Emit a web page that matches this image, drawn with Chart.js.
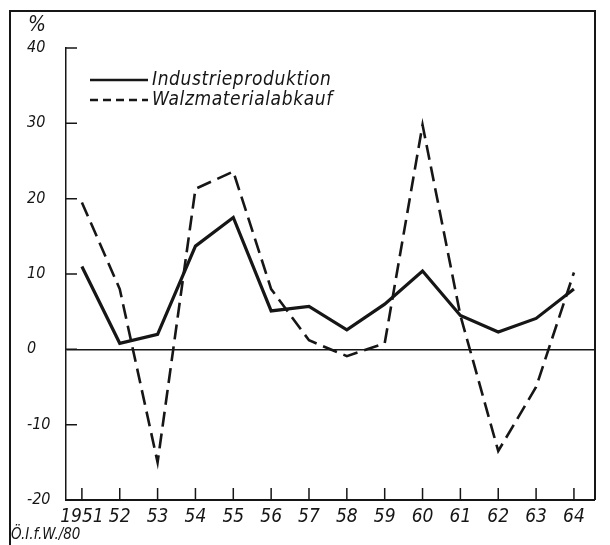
<!DOCTYPE html>
<html>
<head>
<meta charset="utf-8">
<script src="https://cdn.jsdelivr.net/npm/chart.js@4.4.1/dist/chart.umd.min.js"></script>
<style>
  html, body { margin: 0; background: #fff; }
  #wrap { width: 610px; height: 545px; }
</style>
</head>
<body>
<div id="wrap"><canvas id="chart"></canvas></div>
<script>
const years = [1951, 1952, 1953, 1954, 1955, 1956, 1957, 1958, 1959, 1960, 1961, 1962, 1963, 1964];
const yearLabels = ['1951', '52', '53', '54', '55', '56', '57', '58', '59', '60', '61', '62', '63', '64'];
const industrieproduktion = [11.0, 0.8, 2.0, 13.7, 17.5, 5.1, 5.7, 2.6, 6.0, 10.4, 4.5, 2.3, 4.1, 8.0];
const walzmaterialabkauf = [19.5, 8.0, -15.0, 21.3, 23.6, 8.0, 1.2, -0.9, 0.8, 29.8, 4.5, -13.5, -5.0, 10.2];
const yTicks = [-20, -10, 0, 10, 20, 30, 40];

const ink = '#161616';
const face = '"DejaVu Sans Condensed", "Liberation Sans Narrow", "DejaVu Sans", sans-serif';

// box, inner tick marks, legend and the small texts
const frame = {
  id: 'frame',
  afterDraw(chart) {
    const { ctx, chartArea: a, scales: { x, y } } = chart;
    ctx.save();
    ctx.strokeStyle = ink;
    ctx.fillStyle = ink;

    ctx.lineWidth = 2;
    ctx.beginPath();
    ctx.moveTo(10, 545);
    ctx.lineTo(10, 11);
    ctx.lineTo(a.right + 1, 11);
    ctx.lineTo(a.right + 1, a.bottom);
    ctx.stroke();

    ctx.lineWidth = 1.5;
    ctx.beginPath();
    yTicks.forEach(v => {
      const py = y.getPixelForValue(v);
      ctx.moveTo(a.left, py);
      ctx.lineTo(a.left + 11, py);
    });
    years.forEach(v => {
      const px = x.getPixelForValue(v);
      ctx.moveTo(px, a.bottom);
      ctx.lineTo(px, a.bottom - 12);
    });
    ctx.stroke();

    // legend
    ctx.textBaseline = 'middle';
    ctx.textAlign = 'left';
    ctx.font = 'italic 19px ' + face;
    ctx.letterSpacing = '0.6px';
    chart.data.datasets.forEach((ds, i) => {
      const ly = 80 + i * 20;
      ctx.lineWidth = 2.5;
      ctx.setLineDash(i === 0 ? [] : [8, 5]);
      ctx.beginPath();
      ctx.moveTo(90, ly);
      ctx.lineTo(148, ly);
      ctx.stroke();
      ctx.fillText(ds.label, 152, ly);
    });
    ctx.setLineDash([]);
    ctx.letterSpacing = '0px';

    ctx.font = 'italic 21px ' + face;
    ctx.textAlign = 'center';
    ctx.fillText('%', 37, 26);

    ctx.font = 'italic 15px ' + face;
    ctx.textAlign = 'left';
    ctx.fillText('Ö.I.f.W./80', 11, 535);
    ctx.restore();
  }
};

new Chart(document.getElementById('chart'), {
  type: 'line',
  data: {
    datasets: [
      {
        label: 'Industrieproduktion',
        data: years.map((yr, i) => ({ x: yr, y: industrieproduktion[i] })),
        borderColor: ink,
        borderWidth: 3.2,
        pointRadius: 0,
        tension: 0
      },
      {
        label: 'Walzmaterialabkauf',
        data: years.map((yr, i) => ({ x: yr, y: walzmaterialabkauf[i] })),
        borderColor: ink,
        borderWidth: 2.6,
        borderDash: [15, 7],
        pointRadius: 0,
        tension: 0
      }
    ]
  },
  options: {
    responsive: true,
    maintainAspectRatio: false,
    animation: false,
    events: [],
    layout: { padding: { top: 48, left: 27, right: 16, bottom: 0 } },
    plugins: {
      legend: { display: false },
      tooltip: { enabled: false }
    },
    scales: {
      x: {
        type: 'linear',
        min: 1950.58,
        max: 1964.53,
        afterBuildTicks: s => { s.ticks = years.map(v => ({ value: v })); },
        afterFit: s => { s.height = 45; },
        grid: { display: false, drawTicks: false },
        border: { display: true, color: ink, width: 2 },
        ticks: {
          autoSkip: false,
          padding: 6,
          color: ink,
          font: { family: face, size: 19, style: 'italic' },
          maxRotation: 0,
          callback: v => yearLabels[years.indexOf(v)]
        }
      },
      y: {
        min: -20,
        max: 40,
        afterBuildTicks: s => { s.ticks = yTicks.map(v => ({ value: v })); },
        afterFit: s => { s.width = 39; },
        grid: {
          drawTicks: false,
          lineWidth: 1.6,
          color: c => (c.tick && c.tick.value === 0 ? ink : 'rgba(0,0,0,0)')
        },
        border: { display: true, color: ink, width: 1.5 },
        ticks: {
          autoSkip: false,
          crossAlign: 'far',
          color: ink,
          font: { family: face, size: 16, style: 'italic' }
        }
      }
    }
  },
  plugins: [frame]
});
</script>
</body>
</html>
